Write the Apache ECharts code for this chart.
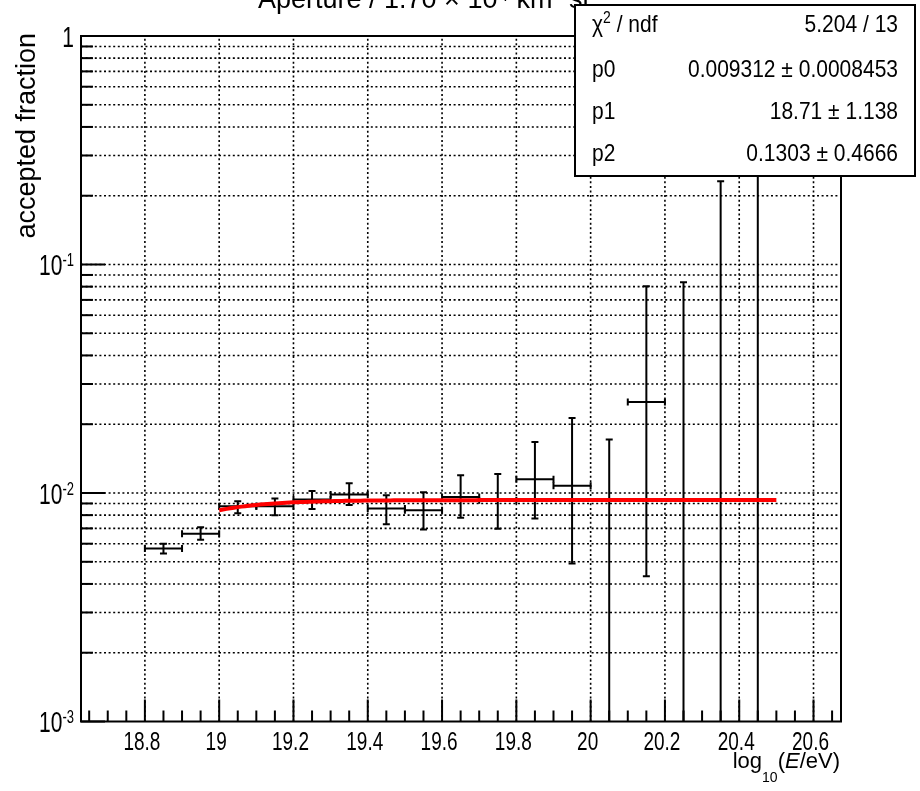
<!DOCTYPE html>
<html>
<head>
<meta charset="utf-8">
<script src="https://cdn.jsdelivr.net/npm/echarts@6/dist/echarts.min.js"></script>
<style>
  html, body { margin: 0; padding: 0; background: #fff; }
  #chart { width: 920px; height: 791px; }
</style>
</head>
<body>
<div id="chart"></div>
<script>
// Energy bins (log10 E/eV) and the accepted fraction per bin
const binCenters = [18.85, 18.95, 19.05, 19.15, 19.25, 19.35, 19.45, 19.55, 19.65, 19.75, 19.85, 19.95, 20.05, 20.15, 20.25, 20.35, 20.45];
const binHalfWidth = 0.05;
const fractions   = [0.00571, 0.00664, 0.00875, 0.00875, 0.00936, 0.00984, 0.00855, 0.00840, 0.00960, 0.00930, 0.01148, 0.01077, 0, 0.02503, 0, 0, 0];
const errLowEdge  = [0.00543, 0.00625, 0.00815, 0.00799, 0.00851, 0.00886, 0.00729, 0.00692, 0.00780, 0.00698, 0.00773, 0.00491, 0, 0.00432, 0, 0, 0];
const errHighEdge = [0.00600, 0.00708, 0.00920, 0.00945, 0.01020, 0.01103, 0.00977, 0.01007, 0.01195, 0.01211, 0.01672, 0.02130, 0.01713, 0.08040, 0.08370, 0.23120, 0.60000];

// Fit: p0 / (1 + exp(-(x - p1) / p2)) over the fit range
const fitParams = [0.009312, 18.71, 0.1303];
const fitRange = [19.0, 20.5];

// Axis ranges and tick labels
const xRange = [18.628, 20.674];
const yRange = [0.001, 1];
const xTickValues = [18.8, 19.0, 19.2, 19.4, 19.6, 19.8, 20.0, 20.2, 20.4, 20.6];
const xTickLabels = ['18.8', '19', '19.2', '19.4', '19.6', '19.8', '20', '20.2', '20.4', '20.6'];
const yTickValues = [0.001, 0.01, 0.1, 1];
const yTickLabels = [['10', '-3'], ['10', '-2'], ['10', '-1'], ['1', '']];

// Fit statistics box
const statNames = ['chi2', 'p0', 'p1', 'p2'];
const statValues = ['5.204 / 13', '0.009312 \u00b1 0.0008453', '18.71 \u00b1 1.138', '0.1303 \u00b1 0.4666'];

const FONT = '"Liberation Sans", Arial, Helvetica, sans-serif';
const LABEL_SCALE_Y = 1.38;

// Minor tick positions
const xMinorTicks = [];
for (let v = 18.65; v < xRange[1]; v += 0.05) {
  const r = Math.round(v * 100) / 100;
  if (Math.abs(Math.round(r * 5) - r * 5) > 1e-6) xMinorTicks.push(r);
}
const yMinorTicks = [];
for (let d = 0.001; d < 1; d *= 10) {
  for (let k = 2; k <= 9; k++) yMinorTicks.push(+(k * d).toPrecision(3));
}

function fitValue(x) {
  return fitParams[0] / (1 + Math.exp(-(x - fitParams[1]) / fitParams[2]));
}
const fitPoints = [];
for (let i = 0; i <= 150; i++) {
  const x = fitRange[0] + (fitRange[1] - fitRange[0]) * i / 150;
  fitPoints.push([x, fitValue(x)]);
}

const dotted = { stroke: '#000', lineWidth: 1.6, lineDash: [2, 2.6] };
const solid = { stroke: '#000', lineWidth: 2 };

function seg(x1, y1, x2, y2, style) {
  return { type: 'line', shape: { x1, y1, x2, y2 }, style };
}

// Grid lines, ticks and tick labels
function renderAxes(params, api) {
  const els = [];
  const [x0] = api.coord([xRange[0], yRange[0]]);
  const [x1] = api.coord([xRange[1], yRange[0]]);
  const yBottom = api.coord([xRange[0], yRange[0]])[1];
  const yTop = api.coord([xRange[0], yRange[1]])[1];

  xTickValues.forEach((v, i) => {
    const x = api.coord([v, yRange[0]])[0];
    els.push(seg(x, yBottom, x, yTop, dotted));
    els.push(seg(x, yBottom, x, yBottom - 22, solid));
    els.push({
      type: 'text', x: x - 3, y: yBottom + 8, scaleY: LABEL_SCALE_Y,
      style: { text: xTickLabels[i], font: '19px ' + FONT, fill: '#000', align: 'center', verticalAlign: 'top' }
    });
  });
  xMinorTicks.forEach(v => {
    const x = api.coord([v, yRange[0]])[0];
    els.push(seg(x, yBottom, x, yBottom - 11, solid));
  });
  yMinorTicks.forEach(v => {
    const y = api.coord([xRange[0], v])[1];
    els.push(seg(x0, y, x1, y, dotted));
    els.push(seg(x0, y, x0 + 12, y, solid));
  });
  yTickValues.forEach((v, i) => {
    const y = api.coord([xRange[0], v])[1];
    if (v !== yRange[0] && v !== yRange[1]) els.push(seg(x0, y, x1, y, dotted));
    els.push(seg(x0, y, x0 + 24, y, solid));
    const [base, sup] = yTickLabels[i];
    els.push({
      type: 'text', x: x0 - 7, y: y + 3, scaleY: LABEL_SCALE_Y,
      style: {
        text: sup ? '{b|' + base + '}{s|' + sup + '}' : '{b|' + base + '}',
        align: 'right', verticalAlign: 'middle',
        rich: {
          b: { font: '21px ' + FONT, fill: '#000', lineHeight: 22 },
          s: { font: '13px ' + FONT, fill: '#000', lineHeight: 22, verticalAlign: 'top' }
        }
      }
    });
  });
  return { type: 'group', children: els };
}

// Error bars with end caps
function renderBins(params, api) {
  const xc = api.value(0), v = api.value(1), lo = api.value(2), hi = api.value(3);
  const els = [];
  const cap = 3.5;
  const top = api.coord([xc, Math.min(hi, yRange[1])]);
  const bot = api.coord([xc, Math.max(lo, yRange[0])]);
  els.push(seg(top[0], top[1], bot[0], bot[1], solid));
  if (hi < yRange[1]) els.push(seg(top[0] - cap, top[1], top[0] + cap, top[1], solid));
  if (lo > yRange[0]) els.push(seg(bot[0] - cap, bot[1], bot[0] + cap, bot[1], solid));
  if (v > yRange[0]) {
    const l = api.coord([xc - binHalfWidth, v]);
    const r = api.coord([xc + binHalfWidth, v]);
    els.push(seg(l[0], l[1], r[0], r[1], solid));
    els.push(seg(l[0], l[1] - cap, l[0], l[1] + cap, solid));
    els.push(seg(r[0], r[1] - cap, r[0], r[1] + cap, solid));
  }
  return { type: 'group', children: els };
}

const chart = echarts.init(document.getElementById('chart'), null, { renderer: 'canvas' });

const statRowY = [25, 70, 112, 154];
const boxChildren = [
  { type: 'rect', z: 100, shape: { x: 575, y: 5, width: 340, height: 171 }, style: { fill: '#fff', stroke: '#000', lineWidth: 2 } }
];
statNames.forEach((name, i) => {
  boxChildren.push({
    type: 'text', z: 101, x: 592, y: statRowY[i], scaleY: 1.15,
    style: {
      text: name === 'chi2' ? '{n|\u03c7}{s|2}{n| / ndf}' : '{n|' + name + '}',
      align: 'left', verticalAlign: 'middle',
      rich: {
        n: { font: '21px ' + FONT, fill: '#000', lineHeight: 26 },
        s: { font: '14px ' + FONT, fill: '#000', lineHeight: 26, verticalAlign: 'top' }
      }
    }
  });
  boxChildren.push({
    type: 'text', z: 101, x: 898, y: statRowY[i], scaleY: 1.15,
    style: { text: statValues[i], font: '21px ' + FONT, fill: '#000', align: 'right', verticalAlign: 'middle' }
  });
});

chart.setOption({
  animation: false,
  backgroundColor: '#fff',
  grid: {
    left: 81, top: 36, right: 79, bottom: 69.5,
    show: true, borderColor: '#000', borderWidth: 2, backgroundColor: '#fff'
  },
  xAxis: {
    type: 'value', min: xRange[0], max: xRange[1],
    axisLine: { show: false }, axisTick: { show: false }, axisLabel: { show: false }, splitLine: { show: false }
  },
  yAxis: {
    type: 'log', logBase: 10, min: yRange[0], max: yRange[1],
    axisLine: { show: false }, axisTick: { show: false }, axisLabel: { show: false }, splitLine: { show: false }
  },
  series: [
    {
      type: 'custom', name: 'axes', z: 1, silent: true, clip: false,
      data: [[xRange[0], yRange[0]]],
      renderItem: renderAxes
    },
    {
      type: 'custom', name: 'accepted fraction', z: 3, silent: true, clip: true,
      data: binCenters.map((c, i) => [c, fractions[i], errLowEdge[i], errHighEdge[i]]),
      renderItem: renderBins
    },
    {
      type: 'line', name: 'fit', z: 4, silent: true,
      data: fitPoints, showSymbol: false, smooth: false,
      lineStyle: { color: '#ff0000', width: 4 }
    }
  ],
  graphic: [
    {
      type: 'text', left: 258, top: -13, z: 1,
      style: { text: 'Aperture / 1.70 \u00d7 10\u2074 km\u00b2 sr', font: '27px ' + FONT, fill: '#000' }
    },
    {
      type: 'text', x: 28, y: 33, rotation: Math.PI / 2, z: 10,
      style: { text: 'accepted fraction', font: '27px ' + FONT, fill: '#000', align: 'right', verticalAlign: 'middle' }
    },
    {
      type: 'text', x: 840, y: 751, z: 10,
      style: {
        text: '{n|log}{sub|10}{n|(}{i|E}{n|/eV)}',
        align: 'right', verticalAlign: 'top',
        rich: {
          n: { font: '22px ' + FONT, fill: '#000', lineHeight: 26, verticalAlign: 'top' },
          i: { font: 'italic 22px ' + FONT, fill: '#000', lineHeight: 26, verticalAlign: 'top' },
          sub: { font: '14px ' + FONT, fill: '#000', lineHeight: 34, verticalAlign: 'bottom' }
        }
      }
    },
    { type: 'group', children: boxChildren }
  ]
});
</script>
</body>
</html>
